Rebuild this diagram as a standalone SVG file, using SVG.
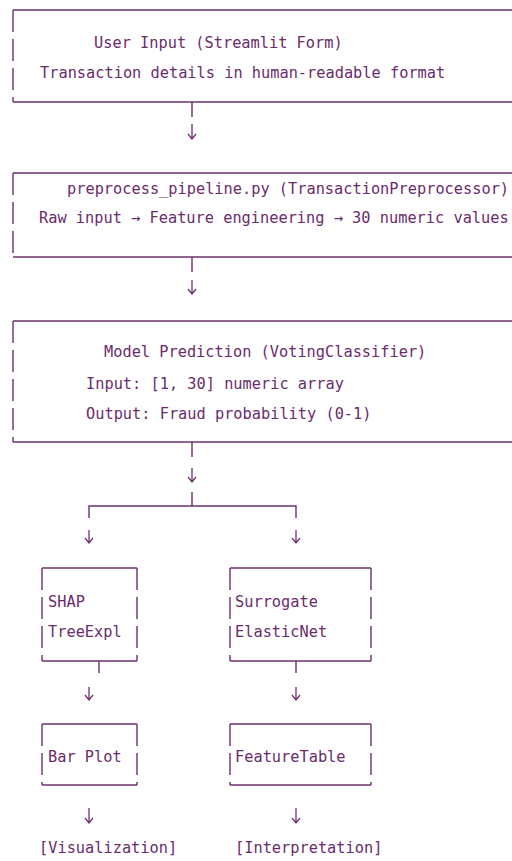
<svg xmlns="http://www.w3.org/2000/svg" width="512" height="861" viewBox="0 0 512 861">
<style>
.t{font-family:"DejaVu Sans Mono","Liberation Mono",monospace;font-size:15.3px;fill:#6a2c6c}
.h{stroke:#6e3070;stroke-width:1.4;fill:none}
.v{stroke:#6e3070;stroke-width:1.4;fill:none;stroke-dasharray:22 7}
.a{stroke:#6e3070;stroke-width:1.3;fill:none}
</style>
<rect width="512" height="861" fill="#ffffff"/>
<g id="node-user-input">
<path class="h" d="M13,10H512M13,102H512"/>
<path class="v" d="M13,10V102"/>
<text class="t" x="94" y="48">User Input (Streamlit Form)</text>
<text class="t" x="40" y="78">Transaction details in human-readable format</text>
</g>
<g id="node-preprocess">
<path class="h" d="M13,173H512M13,257H512"/>
<path class="v" d="M13,173V257"/>
<text class="t" x="67" y="194">preprocess_pipeline.py (TransactionPreprocessor)</text>
<text class="t" x="39" y="223">Raw input → Feature engineering → 30 numeric values</text>
</g>
<g id="node-model">
<path class="h" d="M13,321H512M13,442H512"/>
<path class="v" d="M13,321V442"/>
<text class="t" x="104" y="357">Model Prediction (VotingClassifier)</text>
<text class="t" x="86" y="389">Input: [1, 30] numeric array</text>
<text class="t" x="86" y="419">Output: Fraud probability (0-1)</text>
</g>
<g id="node-shap">
<path class="h" d="M42,568H137M42,661H137"/>
<path class="v" d="M42,568V661M137,568V661"/>
<text class="t" x="48" y="607">SHAP</text>
<text class="t" x="48" y="637">TreeExpl</text>
</g>
<g id="node-surrogate">
<path class="h" d="M230,568H371M230,661H371"/>
<path class="v" d="M230,568V661M371,568V661"/>
<text class="t" x="235" y="607">Surrogate</text>
<text class="t" x="235" y="637">ElasticNet</text>
</g>
<g id="node-barplot">
<path class="h" d="M42,724H137M42,785H137"/>
<path class="v" d="M42,724V785M137,724V785"/>
<text class="t" x="48" y="762">Bar Plot</text>
</g>
<g id="node-featuretable">
<path class="h" d="M230,724H371M230,785H371"/>
<path class="v" d="M230,724V785M371,724V785"/>
<text class="t" x="235" y="762">FeatureTable</text>
</g>
<g id="node-visualization">
<text class="t" x="39" y="853">[Visualization]</text>
</g>
<g id="node-interpretation">
<text class="t" x="235" y="853">[Interpretation]</text>
</g>
<g id="connectors">
<path class="h" d="M192,102V117M192,257V272M192,442V457M192,492V506M89,518V506H296V518M99,661V673M296,661V673"/>
<path class="a" d="M192,124V139M188,134L192,139L196,134"/>
<path class="a" d="M192,280V294M188,289L192,294L196,289"/>
<path class="a" d="M192,468V482M188,477L192,482L196,477"/>
<path class="a" d="M89,530V543M85,538L89,543L93,538"/>
<path class="a" d="M296,530V543M292,538L296,543L300,538"/>
<path class="a" d="M89,687V700M85,695L89,700L93,695"/>
<path class="a" d="M296,687V700M292,695L296,700L300,695"/>
<path class="a" d="M89,808V823M85,818L89,823L93,818"/>
<path class="a" d="M296,808V823M292,818L296,823L300,818"/>
</g>
</svg>
